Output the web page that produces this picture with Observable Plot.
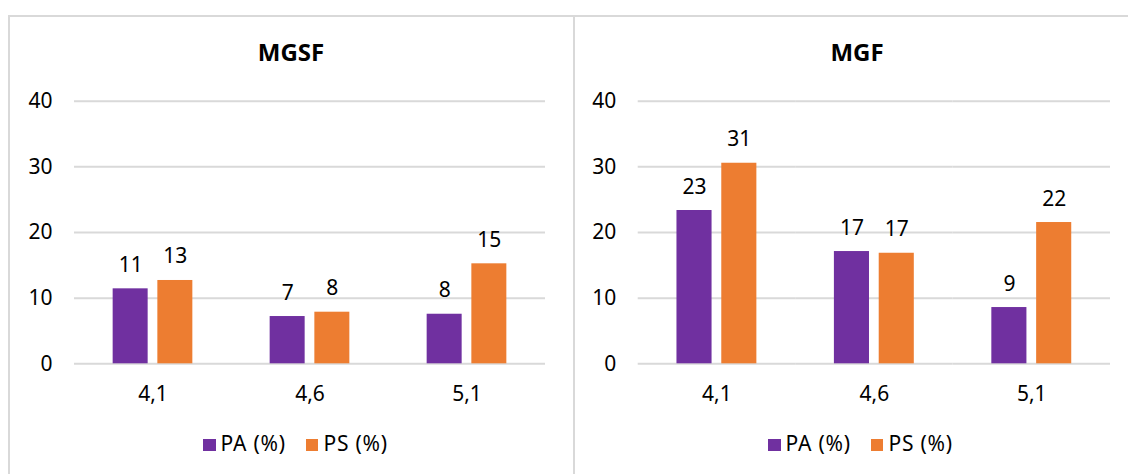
<!DOCTYPE html>
<html>
<head>
<meta charset="utf-8">
<script src="https://cdn.jsdelivr.net/npm/d3@7"></script>
<script src="https://cdn.jsdelivr.net/npm/@observablehq/plot@0.6"></script>
<style>
  html, body { margin: 0; padding: 0; background: #fff; }
  #page { position: relative; width: 1128px; height: 474px; overflow: hidden; background: #fff; font-family: "Noto Sans", sans-serif; color: #000; }
  .panel { position: absolute; top: 15px; height: 520px; border: 2px solid #d9d9d9; box-sizing: border-box; pointer-events: none; z-index: 2; }
  .chart { position: absolute; top: 0; z-index: 1; }
  .title { position: absolute; top: 40px; font-weight: bold; font-size: 24px; line-height: 24px; text-align: center; white-space: nowrap; z-index: 3; }
  .legend { position: absolute; top: 433px; font-size: 21px; line-height: 21px; white-space: nowrap; z-index: 3; letter-spacing: 0.8px; }
  .legend .item { display: inline-block; margin-right: 20px; }
  .legend .sw { display: inline-block; width: 12.5px; height: 12.5px; margin-right: 5px; vertical-align: baseline; }
</style>
</head>
<body>
<div id="page"></div>
<script>
// ---- data ----
const categories = ["4,1", "4,6", "5,1"];
const series = ["PA (%)", "PS (%)"];
const titles = ["MGSF", "MGF"];
const mgsfPA = [11.42, 7.2, 7.55];
const mgsfPS = [12.69, 7.86, 15.23];
const mgfPA = [23.35, 17.1, 8.57];
const mgfPS = [30.55, 16.84, 21.52];
const yTicks = [0, 10, 20, 30, 40];
const colors = ["#7030a0", "#ed7d31"];

function rows(pa, ps) {
  const out = [];
  categories.forEach((c, i) => {
    out.push({cat: c, series: series[0], value: pa[i]});
    out.push({cat: c, series: series[1], value: ps[i]});
  });
  return out;
}

const page = document.getElementById("page");

function panel(cfg) {
  const data = rows(cfg.pa, cfg.ps);
  const chart = Plot.plot({
    width: cfg.width,
    height: 474,
    marginLeft: cfg.marginLeft,
    marginRight: cfg.marginRight,
    marginTop: 100.7,
    marginBottom: 110.7,
    fx: {domain: categories, padding: 0, round: false, axis: "bottom", label: null, tickSize: 0, tickPadding: 22},
    x: {domain: series, paddingInner: 0.217, paddingOuter: 0.865, round: false, axis: null},
    y: {domain: [0, 40], ticks: yTicks, label: null, tickSize: 0, tickPadding: 22},
    color: {domain: series, range: colors},
    style: {fontFamily: "Noto Sans", fontSize: "21px", color: "#000", background: "transparent", overflow: "visible"},
    marks: [
      Plot.ruleY(yTicks, {stroke: "#d9d9d9", strokeWidth: 2}),
      Plot.barY(data, {fx: "cat", x: "series", y: "value", fill: "series"}),
      Plot.text(data, {fx: "cat", x: "series", y: "value", text: d => d3.format(".0f")(d.value),
        lineAnchor: "bottom", dy: -17, fontSize: 21, fill: "#000"})
    ]
  });
  chart.classList.add("chart");
  chart.style.left = cfg.left + "px";
  page.appendChild(chart);

  const border = document.createElement("div");
  border.className = "panel";
  border.style.left = cfg.boxLeft + "px";
  border.style.width = cfg.boxWidth + "px";
  page.appendChild(border);

  const t = document.createElement("div");
  t.className = "title";
  t.textContent = cfg.title;
  t.style.left = (cfg.titleCenter - 100) + "px";
  t.style.width = "200px";
  page.appendChild(t);

  const lg = document.createElement("div");
  lg.className = "legend";
  lg.style.left = cfg.legendLeft + "px";
  series.forEach((s, i) => {
    const it = document.createElement("span");
    it.className = "item";
    const sw = document.createElement("span");
    sw.className = "sw";
    sw.style.background = colors[i];
    it.appendChild(sw);
    it.appendChild(document.createTextNode(s));
    lg.appendChild(it);
  });
  page.appendChild(lg);
}

panel({pa: mgsfPA, ps: mgsfPS, title: titles[0], left: 0, width: 573, marginLeft: 74, marginRight: 28,
  boxLeft: 8, boxWidth: 567, titleCenter: 291, legendLeft: 203});
panel({pa: mgfPA, ps: mgfPS, title: titles[1], left: 573, width: 555, marginLeft: 64.7, marginRight: 18,
  boxLeft: 573, boxWidth: 600, titleCenter: 857, legendLeft: 768});
</script>
</body>
</html>
